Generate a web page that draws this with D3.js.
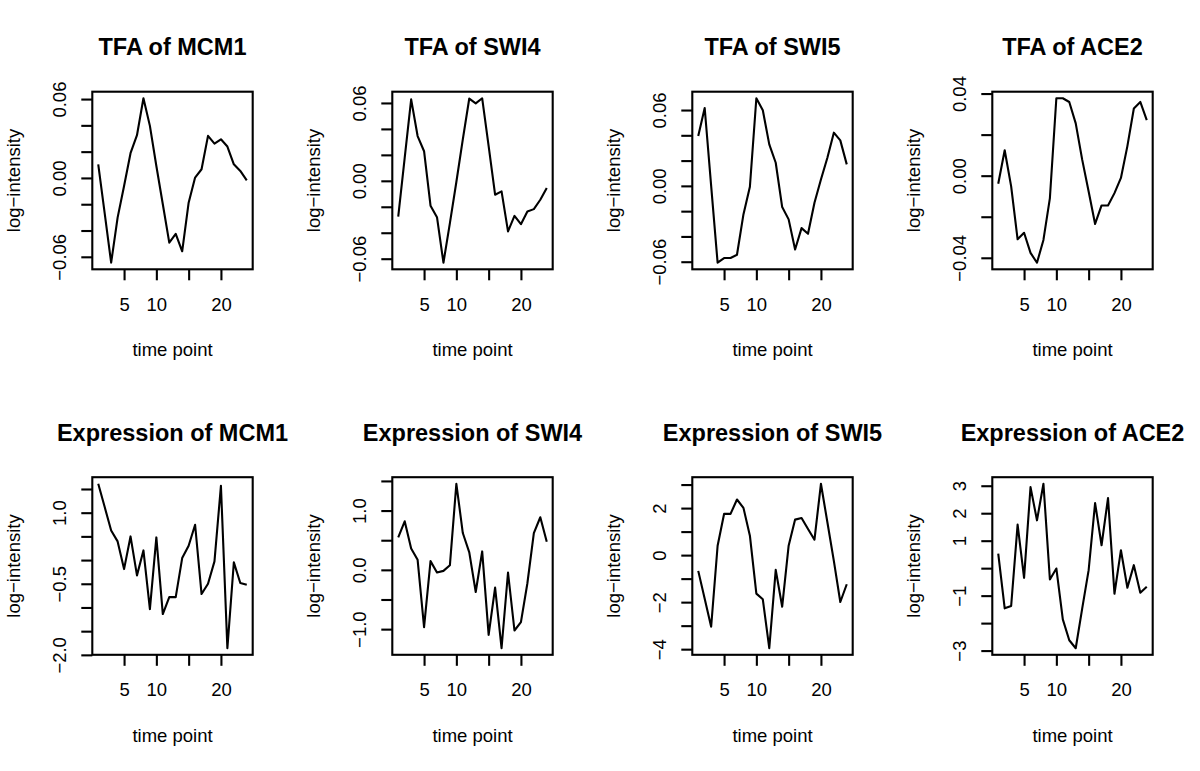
<!DOCTYPE html>
<html>
<head>
<meta charset="utf-8">
<script src="https://cdn.jsdelivr.net/npm/d3@7"></script>
<style>
  html, body { margin: 0; padding: 0; background: #fff; }
  svg { display: block; }
  text { font-family: "Liberation Sans", Arial, Helvetica, sans-serif; fill: #000; }
</style>
</head>
<body>
<svg id="chart" width="1200" height="771"></svg>
<script>
// ---- data ----
const timePoints = [1,2,3,4,5,6,7,8,9,10,11,12,13,14,15,16,17,18,19,20,21,22,23,24];

const titles = [
  "TFA of MCM1", "TFA of SWI4", "TFA of SWI5", "TFA of ACE2",
  "Expression of MCM1", "Expression of SWI4", "Expression of SWI5", "Expression of ACE2"
];

const tfaMCM1 = [0.0104,-0.0269,-0.0645,-0.0302,-0.0061,0.0188,0.0325,0.0606,0.0396,0.0091,-0.0200,-0.0492,-0.0426,-0.0558,-0.0188,0.0003,0.0066,0.0320,0.0261,0.0294,0.0239,0.0104,0.0053,-0.0018];
const tfaSWI4 = [-0.0275,0.0177,0.0628,0.0345,0.0228,-0.0192,-0.0280,-0.0631,-0.0326,-0.0009,0.0319,0.0634,0.0597,0.0636,0.0267,-0.0107,-0.0081,-0.0390,-0.0270,-0.0334,-0.0236,-0.0218,-0.0146,-0.0055];
const tfaSWI5 = [0.0394,0.0616,0.0000,-0.0608,-0.0571,-0.0571,-0.0545,-0.0226,-0.0007,0.0693,0.0598,0.0328,0.0183,-0.0168,-0.0265,-0.0503,-0.0334,-0.0379,-0.0133,0.0051,0.0223,0.0421,0.0360,0.0170];
const tfaACE2 = [-0.0039,0.0124,-0.0052,-0.0310,-0.0278,-0.0376,-0.0424,-0.0313,-0.0109,0.0377,0.0377,0.0359,0.0255,0.0078,-0.0077,-0.0235,-0.0145,-0.0145,-0.0085,-0.0011,0.0144,0.0327,0.0359,0.0271];
const exprMCM1 = [1.610,1.118,0.626,0.394,-0.190,0.499,-0.323,0.204,-1.034,0.478,-1.139,-0.781,-0.781,0.042,0.302,0.745,-0.717,-0.499,-0.028,1.568,-1.860,-0.049,-0.485,-0.520];
const exprSWI4 = [0.548,0.819,0.362,0.169,-0.966,0.147,-0.045,-0.017,0.079,1.452,0.621,0.294,-0.373,0.311,-1.096,-0.299,-1.322,-0.045,-1.023,-0.881,-0.226,0.621,0.887,0.475];
const exprSWI5 = [-0.670,-1.852,-3.048,0.399,1.752,1.752,2.365,2.009,0.826,-1.638,-1.880,-3.960,-0.627,-2.194,0.399,1.510,1.581,1.111,0.655,3.034,1.396,-0.242,-1.994,-1.239];
const exprACE2 = [0.532,-1.463,-1.378,1.584,-0.351,2.950,1.741,3.071,-0.411,-0.012,-1.862,-2.624,-2.914,-1.475,-0.073,2.370,0.834,2.551,-0.931,0.653,-0.713,0.109,-0.895,-0.677];

const seriesList = [tfaMCM1, tfaSWI4, tfaSWI5, tfaACE2, exprMCM1, exprSWI4, exprSWI5, exprACE2];

const xTicks = [5, 10, 15, 20];
const xTickLabels = ["5", "10", "", "20"];

const yTicks = [
  [-0.06,-0.04,-0.02,0,0.02,0.04,0.06],
  [-0.06,-0.04,-0.02,0,0.02,0.04,0.06],
  [-0.06,-0.04,-0.02,0,0.02,0.04,0.06],
  [-0.04,-0.02,0,0.02,0.04],
  [-2.0,-1.5,-1.0,-0.5,0,0.5,1.0,1.5],
  [-1.0,-0.5,0,0.5,1.0,1.5],
  [-4,-3,-2,-1,0,1,2,3],
  [-3,-2,-1,0,1,2,3]
];
const yTickLabels = [
  ["\u22120.06","","","0.00","","","0.06"],
  ["\u22120.06","","","0.00","","","0.06"],
  ["\u22120.06","","","0.00","","","0.06"],
  ["\u22120.04","","0.00","","0.04"],
  ["\u22122.0","","","\u22120.5","","","1.0",""],
  ["\u22121.0","","0.0","","1.0",""],
  ["\u22124","","\u22122","","0","","2",""],
  ["\u22123","","\u22121","","1","2","3"]
];

const xLabel = "time point";
const yLabel = "log\u2212intensity";

// ---- layout ----
const svg = d3.select("#chart");
const cellW = 300, cellH = 385.5;
const mLeft = 92.3, mTop = 91.7, boxW = 160.4, boxH = 177.6;
const lw = 2.1;

seriesList.forEach((vals, i) => {
  const col = i % 4, row = Math.floor(i / 4);
  const ox = col * cellW, oy = row * cellH;
  const g = svg.append("g").attr("transform", `translate(${ox + mLeft},${oy + mTop})`);

  const xr = d3.extent(timePoints);
  const xpad = (xr[1] - xr[0]) * 0.04;
  const x = d3.scaleLinear().domain([xr[0] - xpad, xr[1] + xpad]).range([0, boxW]);
  const yr = d3.extent(vals);
  const ypad = (yr[1] - yr[0]) * 0.04;
  const y = d3.scaleLinear().domain([yr[0] - ypad, yr[1] + ypad]).range([boxH, 0]);

  // line
  const line = d3.line().x((d, k) => x(timePoints[k])).y(d => y(d));
  g.append("path").datum(vals)
    .attr("d", line).attr("fill", "none").attr("stroke", "#000")
    .attr("stroke-width", lw).attr("stroke-linejoin", "round");

  // x axis
  const xa = g.append("g").attr("transform", `translate(0,${boxH})`)
    .call(d3.axisBottom(x).tickValues(xTicks).tickSize(11).tickSizeOuter(0)
      .tickFormat((d, k) => xTickLabels[k]));
  xa.attr("font-size", null).attr("font-family", null);
  xa.select(".domain").remove();
  xa.selectAll(".tick line").attr("stroke", "#000").attr("stroke-width", lw);
  xa.selectAll(".tick text").attr("y", 41.7).attr("dy", 0)
    .style("font-size", "18.5px");

  // y axis
  const ya = g.append("g")
    .call(d3.axisLeft(y).tickValues(yTicks[i]).tickSize(11).tickSizeOuter(0)
      .tickFormat((d, k) => yTickLabels[i][k]));
  ya.attr("font-size", null).attr("font-family", null);
  ya.select(".domain").remove();
  ya.selectAll(".tick line").attr("stroke", "#000").attr("stroke-width", lw);
  ya.selectAll(".tick text")
    .attr("x", 0).attr("y", 0).attr("dy", 0)
    .attr("transform", "translate(-26.3,0) rotate(-90)")
    .attr("text-anchor", "middle")
    .style("font-size", "18.5px");
  svg.selectAll(".tick text").style("fill", "#000");

  // box
  g.append("rect").attr("x", 0).attr("y", 0).attr("width", boxW).attr("height", boxH)
    .attr("fill", "none").attr("stroke", "#000").attr("stroke-width", lw);

  // title
  svg.append("text")
    .attr("x", ox + mLeft + boxW / 2).attr("y", oy + 55)
    .attr("text-anchor", "middle").attr("font-weight", "bold").attr("font-size", 23.5)
    .text(titles[i]);

  // x label
  svg.append("text")
    .attr("x", ox + mLeft + boxW / 2).attr("y", oy + 356)
    .attr("text-anchor", "middle").attr("font-size", 18.5)
    .text(xLabel);

  // y label
  svg.append("text")
    .attr("transform", `translate(${ox + 20},${oy + mTop + boxH / 2}) rotate(-90)`)
    .attr("text-anchor", "middle").attr("font-size", 18.5)
    .text(yLabel);
});
</script>
</body>
</html>
